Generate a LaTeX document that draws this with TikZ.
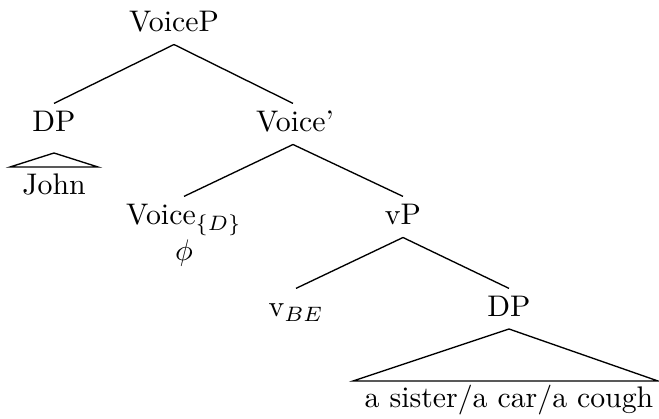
\documentclass[tikz,border=0pt]{standalone}
\usetikzlibrary{calc}
\begin{document}
\begin{tikzpicture}[x=0.3356pt,y=-0.3356pt,
  lbl/.style={anchor=base,inner sep=0pt,text height=9.4pt,text depth=4pt},
  leaf/.style={anchor=base,inner sep=0pt},
  branch/.style={line width=0.45pt}]
\useasboundingbox (0,0) rectangle (659,419);
% nodes
\node[lbl] (voicep) at (174,32) {VoiceP};
\node[lbl] (dpa) at (54,132) {DP};
\node[lbl] (voicebar) at (295,132) {Voice'};
\node[lbl] (voiced) at (184,225) {Voice$_{\{D\}}$};
\node[leaf] (phi) at (184,261) {$\phi$};
\node[lbl] (vp) at (403,225) {vP};
\node[lbl] (vbe) at (296,317) {v$_{BE}$};
\node[lbl] (dpb) at (509,317) {DP};
\node[leaf] (john) at (54,195) {John};
\node[leaf] (sister) at (509,408) {a sister/a car/a cough};
% roof corners
\coordinate (ja) at (54,153);
\coordinate (jl) at (10,167);
\coordinate (jr) at (98,167);
\coordinate (sa) at (509,329);
\coordinate (sl) at (353,381);
\coordinate (sr) at (658,381);
% branches
\draw[branch] (voicep.south) -- (dpa.north);
\draw[branch] (voicep.south) -- (voicebar.north -| 293,0);
\draw[branch] (voicebar.south -| 293,0) -- (voiced.north);
\draw[branch] (voicebar.south -| 293,0) -- (vp.north);
\draw[branch] (vp.south) -- (vbe.north);
\draw[branch] (vp.south) -- (dpb.north);
% roofs
\draw[branch] (jl) -- (ja) -- (jr) -- cycle;
\draw[branch] (sl) -- (sa) -- (sr) -- cycle;
\end{tikzpicture}
\end{document}
